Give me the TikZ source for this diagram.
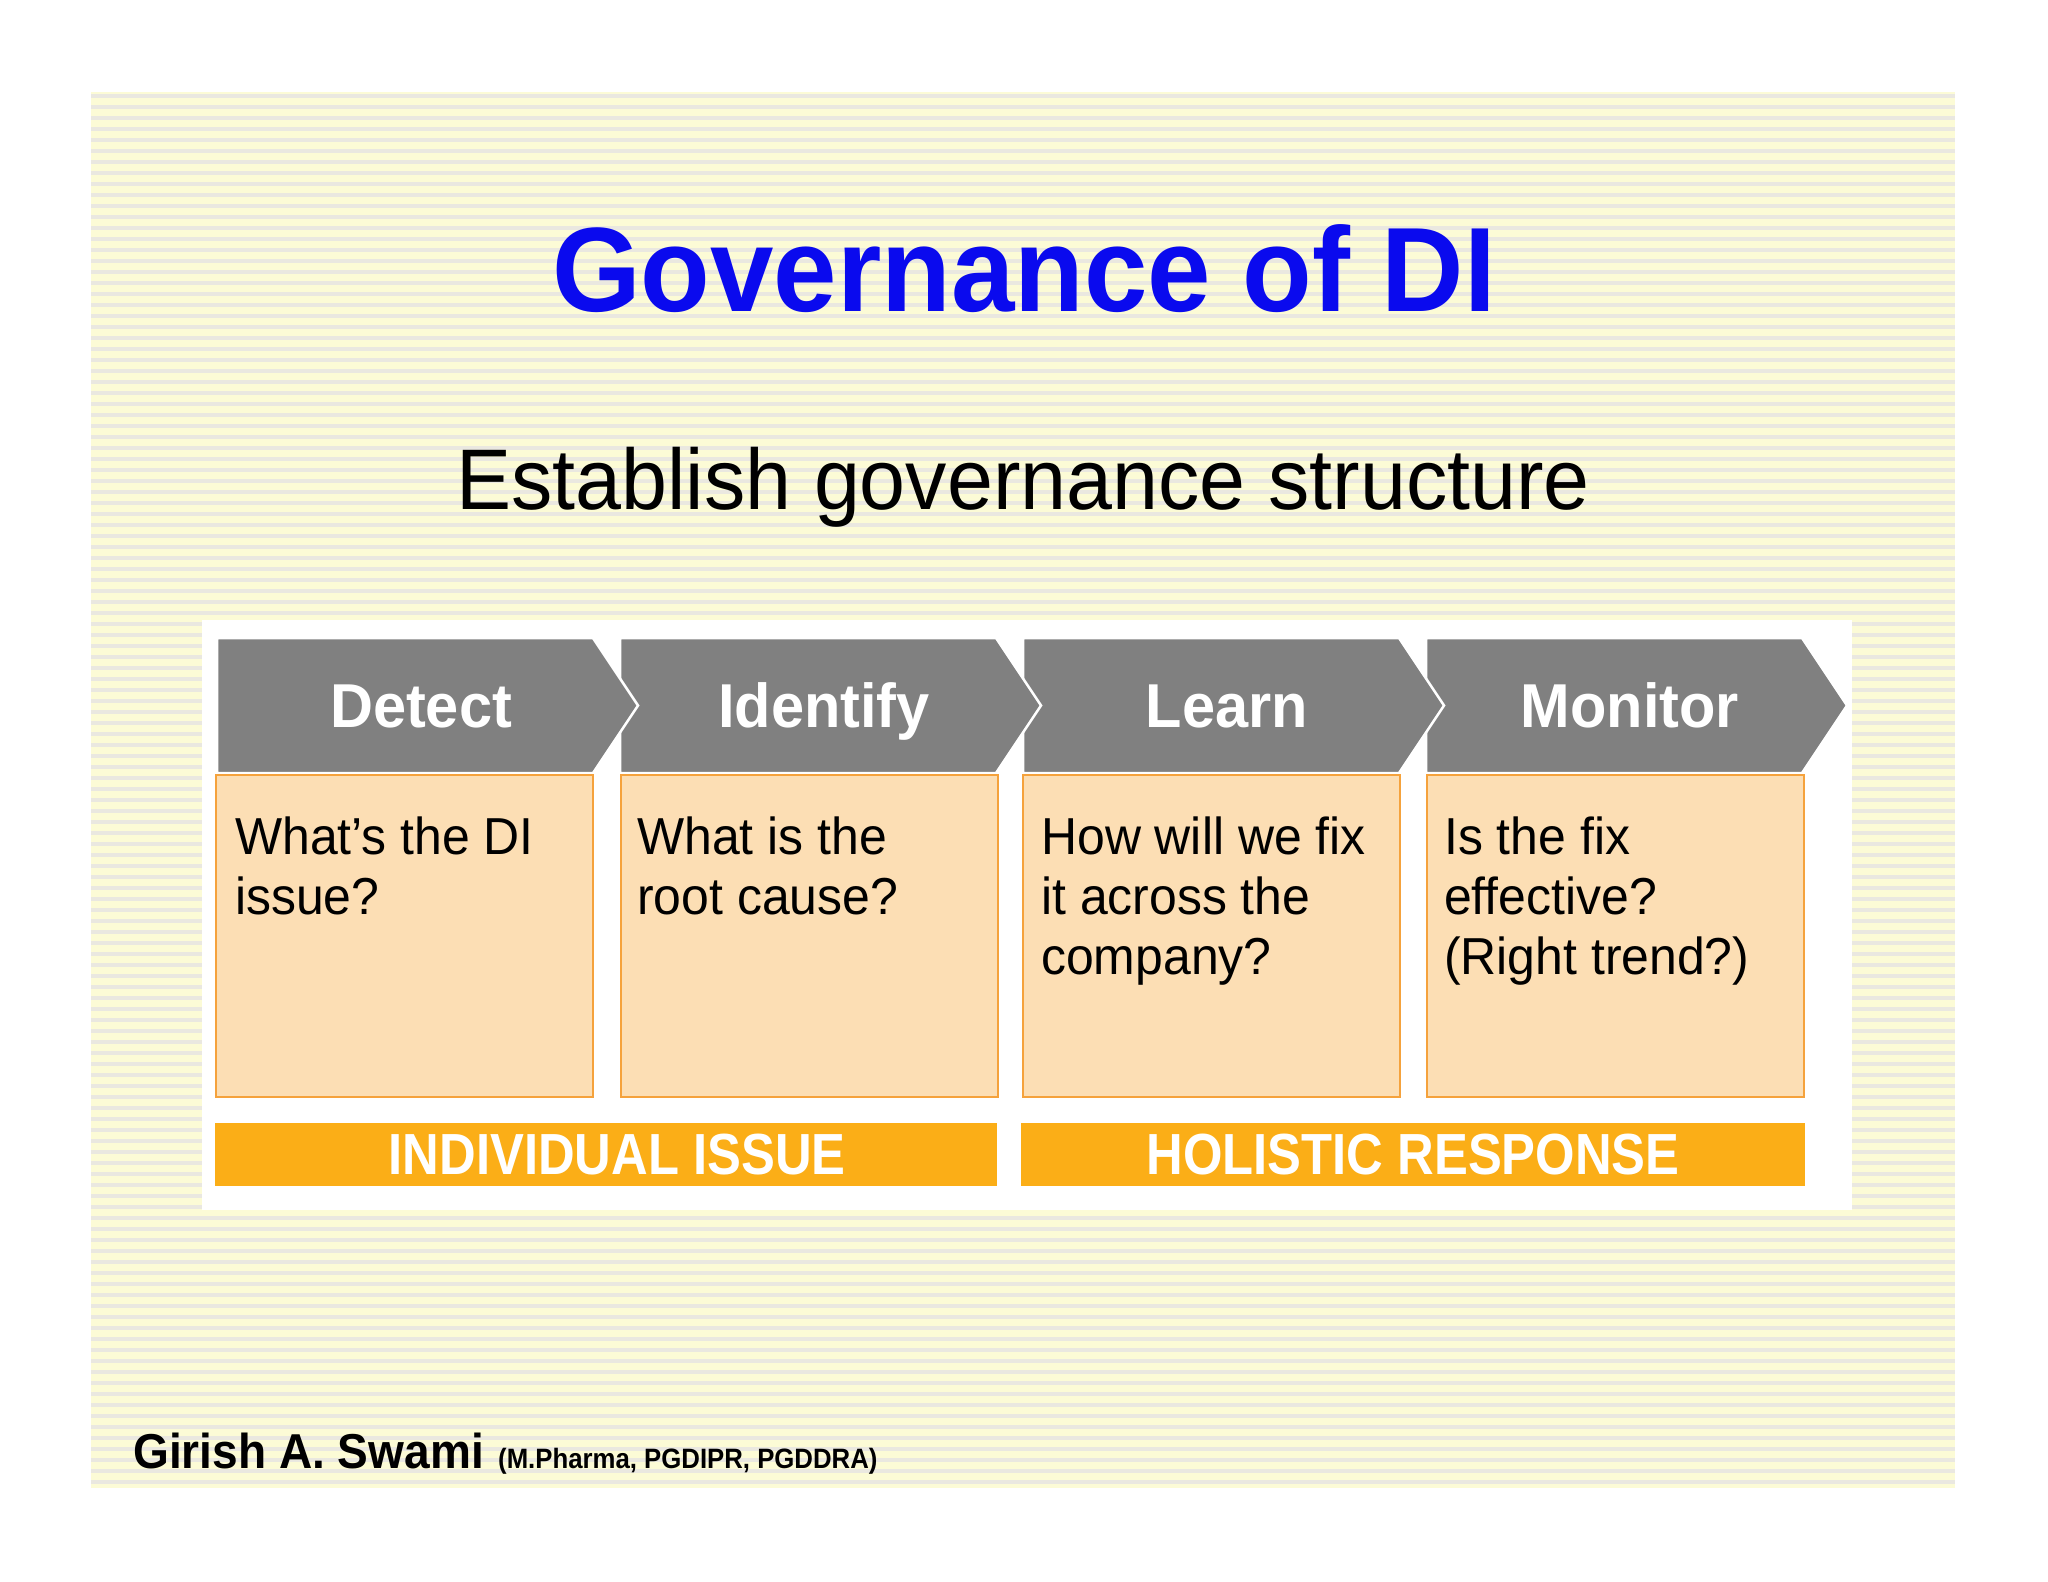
\documentclass[tikz,border=0pt]{standalone}
\usepackage{fontspec}
\setmainfont{Liberation Sans}
\newfontfamily\fmain[FakeStretch=0.96]{Liberation Sans}
\newfontfamily\ftitle[FakeStretch=0.95]{Liberation Sans}
\newfontfamily\fnarrow[FakeStretch=0.875]{Liberation Sans}
\newfontfamily\fauthor[FakeStretch=0.94]{Liberation Sans}
\newfontfamily\fcred[FakeStretch=0.92]{Liberation Sans}
\definecolor{chev}{HTML}{808080}
\definecolor{peach}{HTML}{FCDEB4}
\definecolor{peachline}{HTML}{F5A23C}
\definecolor{barcol}{HTML}{FBAE17}
\definecolor{titleblue}{HTML}{0A0AEE}
\definecolor{bgy}{HTML}{FCFBD6}
\definecolor{bgs}{HTML}{EAE8E0}
\tikzset{
  chevshape/.style={fill=chev, draw=white, line width=2.5pt, line join=miter},
  chevlab/.style={anchor=base, inner sep=0pt, text=white, font=\fmain\bfseries\fontsize{62}{70}\selectfont},
  qbox/.style={fill=peach, draw=peachline, line width=1.5pt, anchor=north west, inner sep=0pt, minimum width=377pt, minimum height=322pt},
  qtext/.style={anchor=base west, inner sep=0pt, text=black},
  barbox/.style={fill=barcol, anchor=north west, inner sep=0pt, minimum height=63pt, text=white, text depth=0pt, font=\fnarrow\bfseries\fontsize{58}{64}\selectfont},
}
\newcommand{\qtxt}[1]{\parbox[t]{375pt}{\raggedright\fmain\fontsize{52}{60}\selectfont #1}}
\begin{document}
\begin{tikzpicture}[x=1pt,y=-1pt]
\useasboundingbox (0,0) rectangle (2048,1582);
\fill[white] (0,0) rectangle (2048,1582);
% striped background
\fill[bgy] (91,92) rectangle (1955,1488);
\foreach \y in {94,105,...,1484} \fill[bgs] (91,\y) rectangle (1955,\y+3.5);
% white panel
\fill[white] (202,620) rectangle (1852,1210);
% chevrons (drawn right to left so each tip lies on the next)
\foreach \L in {1426,1023,620,217}
  \filldraw[chevshape] (\L,638) -- (\L+376,638) -- (\L+421,705.5) -- (\L+376,773) -- (\L,773) -- cycle;
\node[chevlab] (detect) at (421,727) {Detect};
\node[chevlab] (identify) at (824,727) {Identify};
\node[chevlab] (learn) at (1227,727) {Learn};
\node[chevlab] (monitor) at (1630,727) {Monitor};
% question boxes
\node[qbox] (detbox) at (215,774) {};
\node[qbox] (idebox) at (620,774) {};
\node[qbox] (leabox) at (1022,774) {};
\node[qbox] (monbox) at (1426,774) {};
\node[qtext] (dettext) at (235,854) {\qtxt{What’s the DI\\issue?}};
\node[qtext] (idetext) at (637,854) {\qtxt{What is the\\root cause?}};
\node[qtext] (leatext) at (1041,854) {\qtxt{How will we fix\\it across the\\company?}};
\node[qtext] (montext) at (1444,854) {\qtxt{Is the fix\\effective?\\(Right trend?)}};
% bottom bars
\node[barbox, minimum width=782pt] (indiv) at (215,1123) {\hspace*{22pt}INDIVIDUAL ISSUE};
\node[barbox, minimum width=784pt] (holist) at (1021,1123) {HOLISTIC RESPONSE};
% titles
\node[anchor=base, inner sep=0pt, text=titleblue, font=\ftitle\bfseries\fontsize{120}{130}\selectfont] (title) at (1024,311) {Governance of DI};
\node[anchor=base, inner sep=0pt, text=black, font=\fmain\fontsize{86}{96}\selectfont] (subtitle) at (1023,509) {Establish governance structure};
% author
\node[anchor=base west, inner sep=0pt, font=\fauthor\bfseries\fontsize{49}{55}\selectfont] (author) at (133,1468) {Girish A. Swami};
\node[anchor=base west, inner sep=0pt, font=\fcred\bfseries\fontsize{28}{32}\selectfont] (cred) at (498,1468) {(M.Pharma, PGDIPR, PGDDRA)};
\end{tikzpicture}
\end{document}
